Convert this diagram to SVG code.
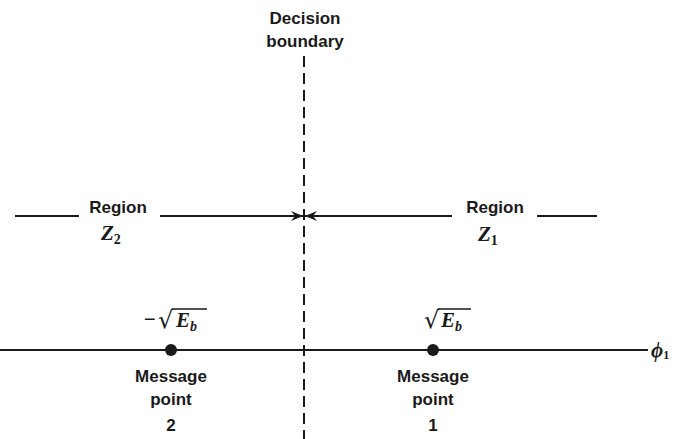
<svg xmlns="http://www.w3.org/2000/svg" width="673" height="439" viewBox="0 0 673 439">
<style>
.t{font-family:"Liberation Sans",Arial,sans-serif;font-size:17px;font-weight:bold;fill:#1a1a1a;text-anchor:middle}
.m{font-family:"Liberation Serif","Times New Roman",serif;font-style:italic;font-weight:bold;font-size:21px;fill:#1a1a1a}
.r{font-family:"DejaVu Serif",serif;font-size:24px;fill:#1a1a1a}
.s{font-size:14px}
.ln{stroke:#1a1a1a;stroke-width:2;fill:none}
.ov{stroke:#1a1a1a;stroke-width:1.6}
</style>
<defs>
<marker id="ah" viewBox="0 0 12 10" refX="12" refY="5" markerWidth="13" markerHeight="10" markerUnits="userSpaceOnUse" orient="auto">
<path d="M0,0 L12,5 L0,10 L4,5 Z" fill="#1a1a1a"/>
</marker>
</defs>
<g id="connectors">
<line class="ln" x1="304" y1="56" x2="304" y2="439" stroke-dasharray="11,6"/>
<line class="ln" x1="0" y1="350" x2="648" y2="350"/>
<line class="ln" x1="15" y1="216" x2="79" y2="216"/>
<line class="ln" x1="160" y1="216" x2="303" y2="216" marker-end="url(#ah)"/>
<line class="ln" x1="452" y1="216" x2="305" y2="216" marker-end="url(#ah)"/>
<line class="ln" x1="537" y1="216" x2="597" y2="216"/>
</g>
<g id="decision-boundary">
<text class="t" x="305" y="24">Decision</text>
<text class="t" x="305" y="47">boundary</text>
</g>
<g id="region-z2">
<text class="t" x="118" y="213">Region</text>
<text class="m" x="101" y="240">Z<tspan class="s" font-style="normal" dy="4">2</tspan></text>
</g>
<g id="region-z1">
<text class="t" x="495" y="213">Region</text>
<text class="m" x="478" y="241">Z<tspan class="s" font-style="normal" dy="4">1</tspan></text>
</g>
<g id="point2">
<circle cx="171" cy="350" r="6" fill="#1a1a1a"/>
<text class="m" x="143" y="326" font-size="23">−</text>
<text class="r" x="158" y="328">√</text>
<text class="m" x="176" y="327">E<tspan class="s" dy="4">b</tspan></text>
<line class="ov" x1="172" y1="309" x2="207" y2="309"/>
<text class="t" x="171" y="382">Message</text>
<text class="t" x="171" y="405">point</text>
<text class="t" x="171" y="431">2</text>
</g>
<g id="point1">
<circle cx="433" cy="350" r="6" fill="#1a1a1a"/>
<text class="r" x="424" y="328">√</text>
<text class="m" x="441" y="327">E<tspan class="s" dy="4">b</tspan></text>
<line class="ov" x1="438" y1="309" x2="471" y2="309"/>
<text class="t" x="433" y="382">Message</text>
<text class="t" x="433" y="405">point</text>
<text class="t" x="433" y="431">1</text>
</g>
<g id="phi1">
<text class="m" x="651" y="357">ϕ<tspan font-size="12" font-style="normal" dy="2">1</tspan></text>
</g>
</svg>
